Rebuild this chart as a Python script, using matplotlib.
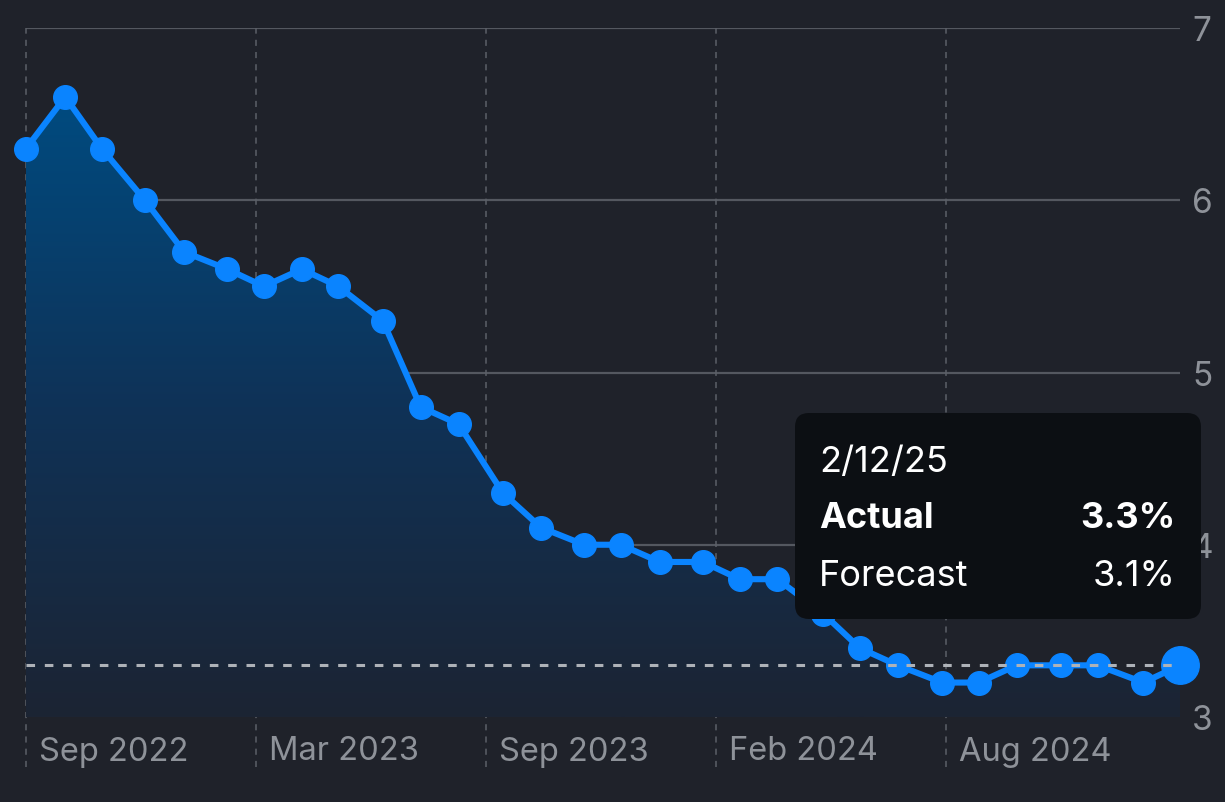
import matplotlib
matplotlib.use("Agg")
import matplotlib.pyplot as plt
import matplotlib.dates as mdates
import numpy as np
from matplotlib.patches import FancyBboxPatch, Polygon
from matplotlib.transforms import IdentityTransform, offset_copy
from matplotlib.colors import LinearSegmentedColormap
from datetime import datetime

release_dates = ["2022-09-13", "2022-10-13", "2022-11-10", "2022-12-13", "2023-01-12",
                 "2023-02-14", "2023-03-14", "2023-04-12", "2023-05-10", "2023-06-13",
                 "2023-07-12", "2023-08-10", "2023-09-13", "2023-10-12", "2023-11-14",
                 "2023-12-12", "2024-01-11", "2024-02-13", "2024-03-12", "2024-04-10",
                 "2024-05-15", "2024-06-12", "2024-07-11", "2024-08-14", "2024-09-11",
                 "2024-10-10", "2024-11-13", "2024-12-11", "2025-01-15", "2025-02-12"]
actual = [6.3, 6.6, 6.3, 6.0, 5.7, 5.6, 5.5, 5.6, 5.5, 5.3,
          4.8, 4.7, 4.3, 4.1, 4.0, 4.0, 3.9, 3.9, 3.8, 3.8,
          3.6, 3.4, 3.3, 3.2, 3.2, 3.3, 3.3, 3.3, 3.2, 3.3]
tick_dates = ["2022-09-13", "2023-03-08", "2023-08-31", "2024-02-23", "2024-08-17"]
tick_labels = ["Sep 2022", "Mar 2023", "Sep 2023", "Feb 2024", "Aug 2024"]
y_ticks = [3, 4, 5, 6, 7]
tooltip_date = "2/12/25"
tooltip_actual = "3.3%"
tooltip_forecast = "3.1%"

BG = "#1f222a"
BLUE = "#0a84ff"
plt.rcParams['font.family'] = ['Inter', 'DejaVu Sans']

W, H = 1225, 802
fig = plt.figure(figsize=(W / 100, H / 100), dpi=100, facecolor=BG)
ax = fig.add_axes([26 / W, (H - 717) / H, (1180 - 26) / W, (717 - 28) / H])
ax.set_facecolor(BG)

x = mdates.date2num([datetime.strptime(d, "%Y-%m-%d") for d in release_dates])
y = np.array(actual)

# gridlines
for yt in y_ticks:
    ax.axhline(yt, color="#545860", lw=1.6, zorder=1)
xt = mdates.date2num([datetime.strptime(d, "%Y-%m-%d") for d in tick_dates])
for t in xt:
    ax.axvline(t, ymin=-0.0726, ymax=1, color="#5c6068", lw=1.1,
               linestyle=(0, (4, 4)), zorder=1, clip_on=False)

# gradient fill
cmap = LinearSegmentedColormap.from_list("g", ["#1c2433", "#0f3257", "#004b80"])
grad = np.linspace(0, 1, 256).reshape(-1, 1)
img = ax.imshow(grad, extent=[x[0], x[-1], 3, max(actual)], origin="lower",
                cmap=cmap, aspect="auto", zorder=2)
verts = [(x[0], 3)] + list(zip(x, y)) + [(x[-1], 3)]
poly = Polygon(verts, closed=True, transform=ax.transData, facecolor="none", edgecolor="none")
ax.add_patch(poly)
img.set_clip_path(poly)
ax.set_xlim(x[0], x[-1])
ax.set_ylim(3, 7)

ax.plot(x, y, color=BLUE, lw=4.4, marker="o", ms=17, mec=BLUE, mfc=BLUE,
        zorder=4, clip_on=False, solid_joinstyle="round")
ax.plot(x[-1], y[-1], marker="o", ms=27, color=BLUE, zorder=5, clip_on=False)

# reference dashed line at last value
ax.axhline(y[-1], color="#aeb2b8", lw=2.2, linestyle=(0, (2.8, 3.2)), zorder=6)

for s in ax.spines.values():
    s.set_visible(False)
ax.set_xticks([])
ax.set_yticks([])

# y tick labels on right
ytrans = offset_copy(ax.get_yaxis_transform(), fig=fig, x=12, y=-4, units="dots")
for yt in y_ticks:
    ax.text(1.0, yt, str(yt), transform=ytrans,
            ha="left", va="center", fontsize=24, color="#8e9299")

# x tick labels
for t, lab in zip(xt, tick_labels):
    ax.annotate(lab, xy=(t, 0), xycoords=ax.get_xaxis_transform(),
                xytext=(13, -35), textcoords="offset pixels",
                ha="left", va="center", fontsize=23.5, color="#8e9299")

# tooltip
box = FancyBboxPatch((795, H - 619), 406, 206,
                     boxstyle="round,pad=0,rounding_size=14",
                     transform=IdentityTransform(), facecolor="#0c0f13",
                     edgecolor="none", zorder=10)
fig.add_artist(box)
fs = 26
fig.text(819 / W, (H - 462) / H, tooltip_date, ha="left", va="center",
         fontsize=fs, color="white", zorder=11)
fig.text(819 / W, (H - 519) / H, "Actual", ha="left", va="center",
         fontsize=fs, color="white", fontweight="bold", zorder=11)
fig.text(1176 / W, (H - 519) / H, tooltip_actual, ha="right", va="center",
         fontsize=fs, color="white", fontweight="bold", zorder=11)
fig.text(819 / W, (H - 577) / H, "Forecast", ha="left", va="center",
         fontsize=fs, color="white", zorder=11)
fig.text(1176 / W, (H - 577) / H, tooltip_forecast, ha="right", va="center",
         fontsize=fs, color="white", zorder=11)

fig.savefig("out.png", dpi=100, facecolor=BG)
